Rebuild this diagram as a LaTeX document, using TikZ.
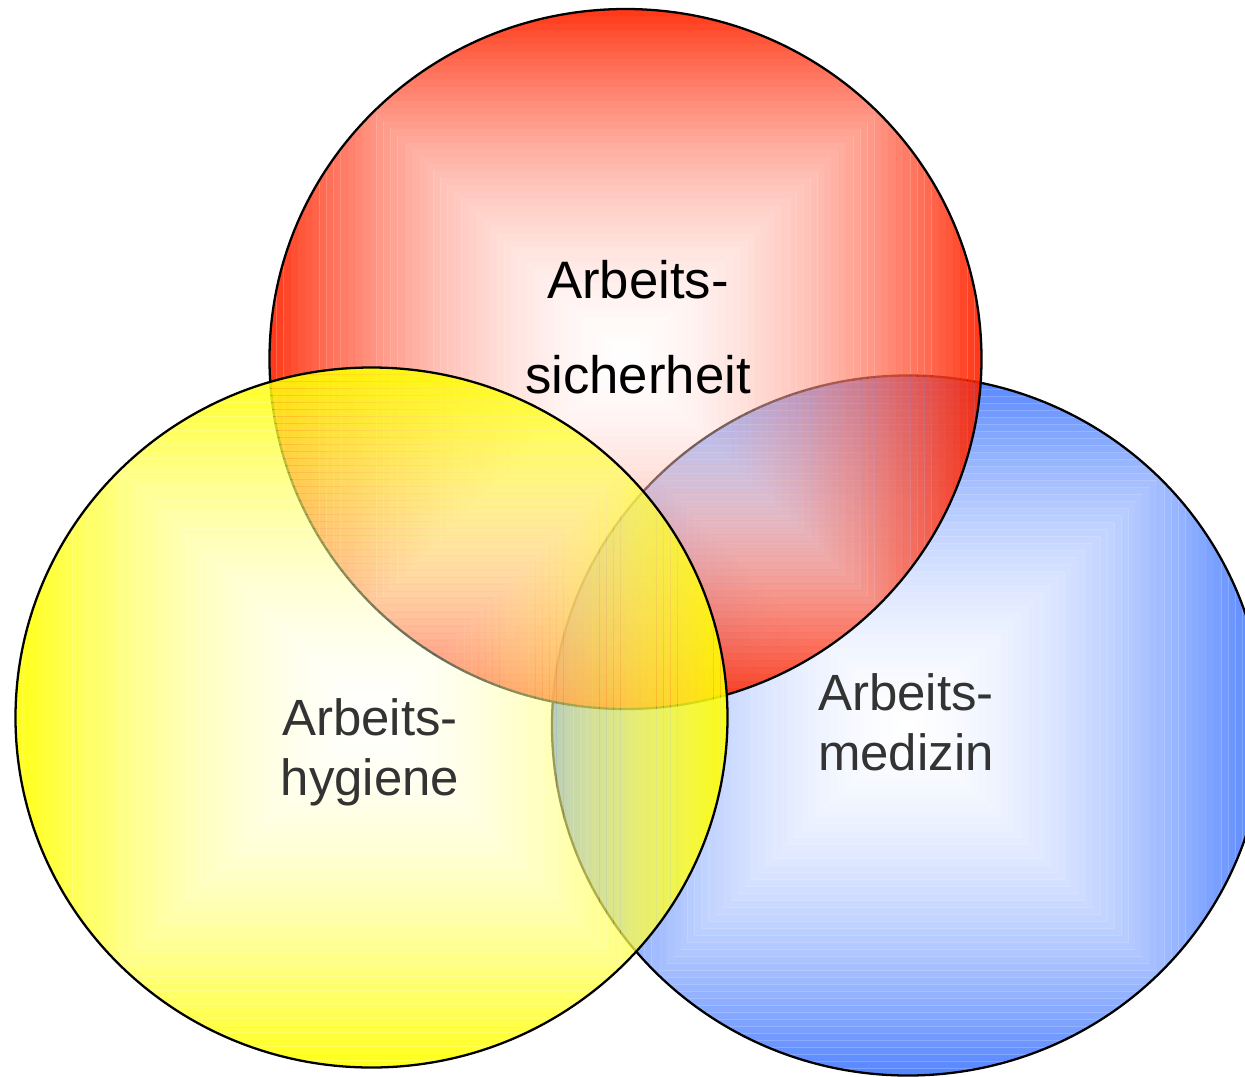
\documentclass[tikz,border=0pt]{standalone}
\usepackage{fontspec}
\setmainfont{Liberation Sans}
\usepackage{tikz}
\usetikzlibrary{positioning}
\definecolor{vred}{RGB}{255,36,0}
\definecolor{vyellow}{RGB}{255,255,0}
\definecolor{vblue}{RGB}{66,120,255}
\tikzset{
  lbl/.style={font=\fontsize{29}{34}\selectfont,align=center,anchor=base},
  rim/.style={draw=black,line width=1.3pt},
}
% square gradient clipped to the disc: cx, cy, colour
\newcommand\squarefill[3]{%
  \begin{scope}
    \clip (#1,#2) ellipse [x radius=356,y radius=350];
    \foreach \k in {0,...,49}{
      \pgfmathsetmacro\da{1-\k/50}
      \pgfmathsetmacro\db{1-(\k+1)/50}
      \pgfmathsetmacro\pc{100*\da^1.2}
      \pgfmathsetmacro\op{0.3+0.6*\da}
      \fill[#3!\pc!white,fill opacity=\op,even odd rule]
        (#1-356*\da,#2-350*\da) rectangle (#1+356*\da,#2+350*\da)
        (#1-356*\db,#2-350*\db) rectangle (#1+356*\db,#2+350*\db);
    }
  \end{scope}
  \draw[rim] (#1,#2) ellipse [x radius=356,y radius=350];
}

\begin{document}
\begin{tikzpicture}[x=0.02cm,y=-0.02cm]
  \useasboundingbox (0,0) rectangle (1245,1076);
  %% Discs
  \squarefill{908}{725.5}{vblue}
  \squarefill{625.5}{359}{vred}
  \squarefill{371.5}{717.5}{vyellow}

  %% Labels (base = last line)
  \node[lbl,font=\fontsize{30}{34}\selectfont] (sich) at (638,393) {Arbeits-\\[20pt]sicherheit};
  \node[lbl,text=black!80] (hyg)  at (370,795) {Arbeits-\\hygiene};
  \node[lbl,text=black!80] (med)  at (906,770) {Arbeits-\\medizin};
\end{tikzpicture}
\end{document}
